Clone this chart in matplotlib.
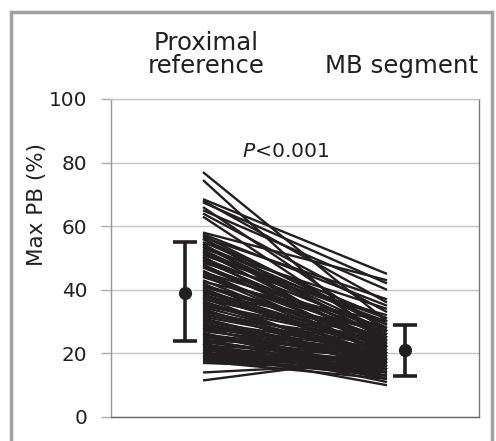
import matplotlib
matplotlib.use("Agg")
import matplotlib.pyplot as plt
from matplotlib.patches import Rectangle

# ---- data ----
group_labels = ["Proximal\nreference", "MB segment"]
proximal_pb = [
    77, 74.5, 68.5, 68, 67.5, 66, 65, 64, 63,
    58, 57.5, 57, 56.5, 56, 55, 54.5, 54, 53, 52.5, 52, 51, 50.5, 50, 49, 48.5, 48, 47, 46, 45.5, 45,
    44, 43, 42.5, 42, 41, 40, 39.5, 39, 38, 37.5, 37, 36, 35, 34.5, 34, 33, 32.5, 32, 31, 30,
    29.5, 29, 28.5, 28, 27.5, 27, 26.5, 26, 25.5, 25, 24.5, 24, 23.5, 23, 22.5, 22, 21.5, 21, 20.5, 20,
    19.5, 19, 19, 18.5, 18, 18, 17.5, 17, 14, 11.5,
    56, 53.5, 51.5, 49.5, 47.5, 44.5, 41.5, 40.5, 38.5, 36.5, 35.5, 33.5, 31.5, 30.5, 28, 26,
    24, 22, 21, 20, 19, 18.5, 17.5, 23, 25,
]
mb_pb = [
    30, 22, 45, 36, 42, 27, 40, 33, 25,
    43, 35, 28, 37, 24, 31, 20, 29, 34, 26, 22, 30, 18, 27, 25, 32, 21, 24, 19, 28, 23,
    26, 20, 30, 17, 24, 22, 19, 27, 21, 16, 25, 18, 23, 20, 15, 22, 19, 24, 17, 21,
    18, 16, 21, 14, 17, 20, 12, 19, 15, 18, 13, 16, 17, 11, 19, 14, 15, 18, 10, 16,
    17, 15, 13, 18, 14, 16, 12, 15, 17, 19,
    29, 27, 31, 23, 26, 20, 25, 18, 22, 17, 24, 19, 21, 16, 20, 15,
    22, 17, 14, 18, 16, 13, 15, 12, 20,
]
group_mean = [39, 21]
group_low = [24, 13]
group_high = [55, 29]
y_ticks = [0, 20, 40, 60, 80, 100]
p_text = "P<0.001"

W, H = 496, 441
fig = plt.figure(figsize=(W / 100, H / 100), dpi=100)
plt.rcParams["font.family"] = ["DejaVu Sans"]

def fx(px):
    return px / W

def fy(py):
    return 1 - py / H

ax = fig.add_axes([fx(111), fy(417), fx(479) - fx(111), fy(99) - fy(417)])
ax.set_xlim(0, 1)
ax.set_ylim(0, 100)

ink = "#231f20"
line_x = [0.25, 0.75]
for a, b in zip(proximal_pb, mb_pb):
    ax.plot(line_x, [a, b], color=ink, lw=1.7, solid_capstyle="butt", zorder=3)

err_x = [0.2, 0.8]
for xi, m, lo, hi in zip(err_x, group_mean, group_low, group_high):
    ax.errorbar([xi], [m], yerr=[[m - lo], [hi - m]], fmt="o", color=ink,
                ms=8.5, elinewidth=2.6, capsize=8.5, capthick=2.6, zorder=4)

ax.set_yticks(y_ticks)
ax.set_xticks([])
ax.yaxis.grid(True, color="#c4c4c4", lw=1.0)
ax.set_axisbelow(True)
ax.tick_params(axis="y", length=7, width=1.0, color="#aaaaaa", pad=10,
               labelsize=14.4, labelcolor="#231f20")
ax.spines["left"].set_color("#999999")
ax.spines["bottom"].set_color("#666666")
ax.spines["right"].set_color("#777777")
ax.spines["top"].set_color("#c4c4c4")
for s in ax.spines.values():
    s.set_linewidth(1.0)

# y label
fig.text(fx(36.5), fy(205), "Max PB (%)", rotation=90, ha="center", va="center",
         fontsize=15.5, color="#231f20")

# group headers
prox_lines = group_labels[0].split("\n")
fig.text(fx(206), fy(50), prox_lines[0], ha="center", va="baseline", fontsize=17.6, color="#231f20")
fig.text(fx(206), fy(73), prox_lines[1], ha="center", va="baseline", fontsize=17.6, color="#231f20")
fig.text(fx(402), fy(73), group_labels[1], ha="center", va="baseline", fontsize=17.6, color="#231f20")

# p value
fig.text(fx(286), fy(157), r"$\it{P}$" + p_text[1:], ha="center", va="baseline",
         fontsize=14.7, color="#231f20")

# outer frame
fig.patches.append(Rectangle((fx(10.5), -0.2), fx(492) - fx(10.5), fy(12) + 0.2,
                             transform=fig.transFigure, fill=False,
                             edgecolor="#a0a0a0", lw=2.5))

fig.savefig("out.png", dpi=100)
